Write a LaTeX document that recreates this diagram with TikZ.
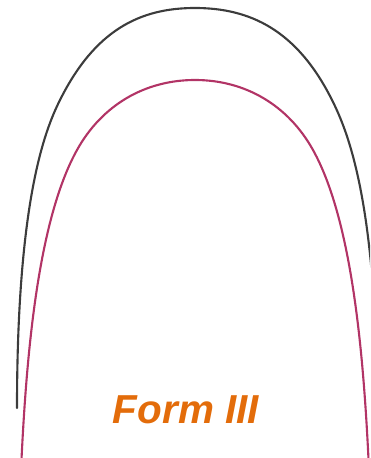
\documentclass[tikz,border=0pt]{standalone}
\usepackage{fontspec}
\setmainfont{Liberation Sans}
\definecolor{outerc}{HTML}{3C3C3C}
\definecolor{innerc}{HTML}{B23466}
\definecolor{labelc}{HTML}{E36C0A}
\begin{document}
\begin{tikzpicture}[x={(0.01cm,0)},y={(0,-0.01cm)},
  wire/.style={line width=0.6pt,line cap=round}]
\useasboundingbox (0,0) rectangle (370,458);
\begin{scope}
\clip (0,0) rectangle (370,458);
\draw[wire,outerc] (17,408) .. controls (17,200) and (45,130) .. (60,100)
  .. controls (95,30) and (140,8) .. (195,8)
  .. controls (250,8) and (297,30) .. (332,100)
  .. controls (347,130) and (377,200) .. (377,408);
\draw[wire,innerc] (21,470) .. controls (26,360) and (37,222) .. (77,150)
  .. controls (102,105) and (145,80) .. (195,80)
  .. controls (245,80) and (288,105) .. (313,150)
  .. controls (353,222) and (364,360) .. (369,470);
\end{scope}
\node[text=labelc,font=\fontsize{11.5pt}{14pt}\selectfont\bfseries\itshape,anchor=base] (lbl) at (186,423) {Form III};
\end{tikzpicture}
\end{document}
